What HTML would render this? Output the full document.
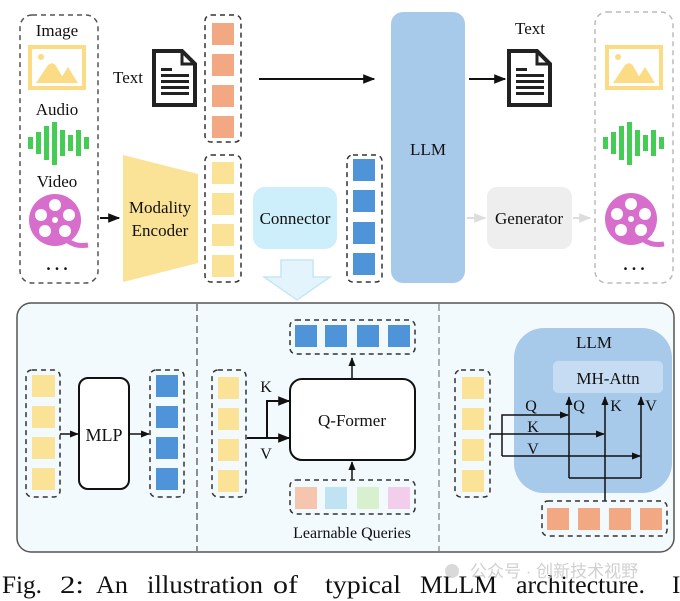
<!DOCTYPE html>
<html><head><meta charset="utf-8"><style>
html,body{margin:0;padding:0;background:#fff;}
svg{display:block;}
text{font-family:"Liberation Serif",serif;fill:#111;}
</style></head><body>
<svg width="680" height="601" viewBox="0 0 680 601" xmlns="http://www.w3.org/2000/svg">
<defs>
<marker id="ah" viewBox="0 0 10 10" refX="9" refY="5" markerWidth="6" markerHeight="6" orient="auto"><path d="M0,1 L10,5 L0,9 z" fill="#111"/></marker>
<marker id="ahg" viewBox="0 0 10 10" refX="9" refY="5" markerWidth="6" markerHeight="6" orient="auto"><path d="M0,1 L10,5 L0,9 z" fill="#ddd"/></marker>
<g id="img"><rect x="2" y="2" width="54" height="41" fill="none" stroke="#fbdc84" stroke-width="4"/><circle cx="13" cy="12" r="3" fill="#fbdc84"/><path d="M8,38 L24,14 L38,38 z M30,38 L40,22 L50,38 z" fill="#fbdc84"/><path d="M20,20 L24,14 L28,20 L24,18 z" fill="#fff"/></g>
<g id="aud" fill="#44cc55"><rect x="0" y="15" width="5" height="12"/><rect x="8" y="10" width="5" height="22"/><rect x="16" y="4" width="5" height="34"/><rect x="24" y="0" width="5" height="43"/><rect x="32" y="8" width="5" height="26"/><rect x="40" y="13" width="5" height="16"/><rect x="48" y="8" width="5" height="26"/><rect x="56" y="15" width="5" height="12"/></g>
<g id="vid"><circle cx="27" cy="27" r="26" fill="#d86ecc"/><path d="M40,48 Q48,54 60,52" stroke="#d86ecc" stroke-width="5" fill="none"/><g fill="#fff"><circle cx="27" cy="12" r="6"/><circle cx="13" cy="22" r="6"/><circle cx="41" cy="22" r="6"/><circle cx="17" cy="38" r="6"/><circle cx="37" cy="38" r="6"/><circle cx="27" cy="27" r="3"/></g></g>
<g id="doc"><path d="M2,2 L30,2 L43,15 L43,56 L2,56 z" fill="#fff" stroke="#222" stroke-width="4"/><path d="M30,2 L30,15 L43,15" fill="none" stroke="#222" stroke-width="3"/><g fill="#222"><rect x="9" y="19" width="11" height="3"/><rect x="9" y="25" width="28" height="3"/><rect x="9" y="31" width="28" height="3"/><rect x="9" y="37" width="28" height="3"/><rect x="9" y="43" width="28" height="3"/></g></g>
</defs>

<rect x="20" y="15" width="78" height="268" rx="12" fill="none" stroke="#555" stroke-width="1.5" stroke-dasharray="5,4"/>
<text x="57" y="36" font-size="17" text-anchor="middle">Image</text>
<use href="#img" x="28" y="45"/>
<text x="57" y="115" font-size="17" text-anchor="middle">Audio</text>
<use href="#aud" x="28" y="122"/>
<text x="57" y="187" font-size="17" text-anchor="middle">Video</text>
<use href="#vid" x="28" y="193"/>
<text x="57" y="270" font-size="17" text-anchor="middle" font-weight="bold">. . .</text>
<line x1="100" y1="218" x2="119" y2="218" stroke="#111" stroke-width="2" marker-end="url(#ah)"/>
<polygon points="123,155 198,174 198,263 123,282" fill="#fae396"/>
<text x="160" y="213" font-size="17" text-anchor="middle">Modality</text>
<text x="160" y="236" font-size="17" text-anchor="middle">Encoder</text>

<text x="128" y="83" font-size="17" text-anchor="middle">Text</text>
<use href="#doc" x="152" y="49"/>
<rect x="205" y="15" width="36" height="127" rx="6" fill="none" stroke="#333" stroke-width="1.5" stroke-dasharray="5,4"/>
<g fill="#f2a983"><rect x="212" y="23" width="22" height="22"/><rect x="212" y="54" width="22" height="22"/><rect x="212" y="85" width="22" height="22"/><rect x="212" y="116" width="22" height="22"/></g>
<rect x="205" y="155" width="36" height="127" rx="6" fill="none" stroke="#333" stroke-width="1.5" stroke-dasharray="5,4"/>
<g fill="#fae396"><rect x="212" y="162" width="22" height="22"/><rect x="212" y="193" width="22" height="22"/><rect x="212" y="224" width="22" height="22"/><rect x="212" y="255" width="22" height="22"/></g>
<rect x="253" y="187" width="84" height="62" rx="12" fill="#cdeefb"/>
<text x="295" y="224" font-size="17" text-anchor="middle">Connector</text>
<polygon points="281,260 313,260 313,277 330,277 297,300 264,277 281,277" fill="#e3f4fc" stroke="#c5e6f5" stroke-width="1.5"/>
<line x1="259" y1="79" x2="374" y2="79" stroke="#111" stroke-width="2" marker-end="url(#ah)"/>

<rect x="347" y="155" width="35" height="127" rx="6" fill="none" stroke="#333" stroke-width="1.5" stroke-dasharray="5,4"/>
<g fill="#4f94d9"><rect x="353" y="159" width="22" height="22"/><rect x="353" y="190" width="22" height="22"/><rect x="353" y="222" width="22" height="22"/><rect x="353" y="253" width="22" height="22"/></g>
<rect x="391" y="12" width="74" height="271" rx="12" fill="#a7c9ea"/>
<text x="428" y="155" font-size="17" text-anchor="middle">LLM</text>
<line x1="469" y1="79" x2="505" y2="79" stroke="#111" stroke-width="2" marker-end="url(#ah)"/>
<text x="530" y="34" font-size="17" text-anchor="middle">Text</text>
<use href="#doc" x="507" y="49"/>
<line x1="467" y1="218" x2="485" y2="218" stroke="#ddd" stroke-width="2" marker-end="url(#ahg)"/>
<rect x="487" y="187" width="85" height="62" rx="10" fill="#eeeeee"/>
<text x="529" y="224" font-size="17" text-anchor="middle">Generator</text>
<line x1="573" y1="218" x2="590" y2="218" stroke="#ddd" stroke-width="2" marker-end="url(#ahg)"/>
<rect x="595" y="12" width="78" height="271" rx="12" fill="none" stroke="#bbb" stroke-width="1.5" stroke-dasharray="5,4"/>
<use href="#img" x="605" y="45"/>
<use href="#aud" x="603" y="122"/>
<use href="#vid" x="604" y="192"/>
<text x="634" y="270" font-size="17" text-anchor="middle" font-weight="bold">. . .</text>

<rect x="17" y="303" width="657" height="249" rx="14" fill="#f3fafd" stroke="#555" stroke-width="1.5"/>
<line x1="197" y1="304" x2="197" y2="551" stroke="#555" stroke-width="1.3" stroke-dasharray="7,4"/>
<line x1="439" y1="304" x2="439" y2="551" stroke="#888" stroke-width="1.3" stroke-dasharray="7,4"/>

<rect x="26" y="370" width="34" height="127" rx="6" fill="none" stroke="#333" stroke-width="1.5" stroke-dasharray="5,4"/>
<g fill="#fae396"><rect x="32" y="375" width="23" height="22"/><rect x="32" y="406" width="23" height="22"/><rect x="32" y="437" width="23" height="22"/><rect x="32" y="468" width="23" height="22"/></g>
<line x1="60" y1="434" x2="78" y2="434" stroke="#111" stroke-width="1.5" marker-end="url(#ah)"/>
<rect x="79" y="378" width="50" height="111" rx="9" fill="#fff" stroke="#111" stroke-width="2"/>
<text x="104" y="441" font-size="18" text-anchor="middle">MLP</text>
<line x1="129" y1="434" x2="149" y2="434" stroke="#111" stroke-width="1.5" marker-end="url(#ah)"/>
<rect x="150" y="370" width="34" height="127" rx="6" fill="none" stroke="#333" stroke-width="1.5" stroke-dasharray="5,4"/>
<g fill="#4f94d9"><rect x="156" y="375" width="22" height="22"/><rect x="156" y="406" width="22" height="22"/><rect x="156" y="437" width="22" height="22"/><rect x="156" y="468" width="22" height="22"/></g>

<rect x="212" y="370" width="34" height="127" rx="6" fill="none" stroke="#333" stroke-width="1.5" stroke-dasharray="5,4"/>
<g fill="#fae396"><rect x="218" y="377" width="21" height="22"/><rect x="218" y="408" width="21" height="22"/><rect x="218" y="439" width="21" height="22"/><rect x="218" y="470" width="21" height="22"/></g>
<line x1="247" y1="438" x2="289" y2="438" stroke="#111" stroke-width="2" marker-end="url(#ah)"/>
<polyline points="267,438 267,401 289,401" fill="none" stroke="#111" stroke-width="2" marker-end="url(#ah)"/>
<text x="266" y="392" font-size="16" text-anchor="middle">K</text>
<text x="266" y="459" font-size="16" text-anchor="middle">V</text>
<rect x="290" y="379" width="125" height="81" rx="12" fill="#fff" stroke="#111" stroke-width="2"/>
<text x="352" y="426" font-size="17" text-anchor="middle">Q-Former</text>
<line x1="352" y1="379" x2="352" y2="358" stroke="#111" stroke-width="1.5" marker-end="url(#ah)"/>
<rect x="290" y="320" width="125" height="34" rx="6" fill="none" stroke="#333" stroke-width="1.5" stroke-dasharray="5,4"/>
<g fill="#4f94d9"><rect x="295" y="325" width="22" height="22"/><rect x="325" y="325" width="22" height="22"/><rect x="357" y="325" width="22" height="22"/><rect x="388" y="325" width="22" height="22"/></g>
<line x1="352" y1="480" x2="352" y2="462" stroke="#111" stroke-width="1.5" marker-end="url(#ah)"/>
<rect x="290" y="480" width="125" height="34" rx="6" fill="none" stroke="#333" stroke-width="1.5" stroke-dasharray="5,4"/>
<rect x="295" y="487" width="22" height="22" fill="#f5c6ad"/><rect x="325" y="487" width="22" height="22" fill="#bfe3f3"/><rect x="357" y="487" width="22" height="22" fill="#d9f0cf"/><rect x="388" y="487" width="22" height="22" fill="#f2cdec"/>
<text x="352" y="538" font-size="16" text-anchor="middle">Learnable Queries</text>

<rect x="514" y="328" width="158" height="165" rx="30" fill="#a7c9ea"/>
<text x="594" y="348" font-size="17" text-anchor="middle">LLM</text>
<rect x="553" y="361" width="110" height="32" rx="5" fill="#c6dcf2"/>
<text x="608" y="384" font-size="17" text-anchor="middle">MH-Attn</text>
<rect x="455" y="370" width="35" height="127" rx="6" fill="none" stroke="#333" stroke-width="1.5" stroke-dasharray="5,4"/>
<g fill="#fae396"><rect x="462" y="377" width="22" height="22"/><rect x="462" y="408" width="22" height="22"/><rect x="462" y="439" width="22" height="22"/><rect x="462" y="470" width="22" height="22"/></g>
<g stroke="#111" stroke-width="1.5" fill="none">
<line x1="490" y1="434" x2="604" y2="434" marker-end="url(#ah)"/>
<polyline points="502,456 502,415 568,415" marker-end="url(#ah)"/>
<line x1="502" y1="456" x2="640" y2="456" marker-end="url(#ah)"/>
<polyline points="569,478 641,478"/>
<line x1="569" y1="478" x2="569" y2="397" marker-end="url(#ah)"/>
<line x1="641" y1="478" x2="641" y2="397" marker-end="url(#ah)"/>
<line x1="605" y1="501" x2="605" y2="397" marker-end="url(#ah)"/>
</g>
<text x="531" y="411" font-size="16" text-anchor="middle">Q</text>
<text x="533" y="432" font-size="16" text-anchor="middle">K</text>
<text x="533" y="454" font-size="16" text-anchor="middle">V</text>
<text x="579" y="411" font-size="16" text-anchor="middle">Q</text>
<text x="616" y="411" font-size="16" text-anchor="middle">K</text>
<text x="651" y="411" font-size="16" text-anchor="middle">V</text>
<rect x="542" y="501" width="125" height="35" rx="6" fill="none" stroke="#333" stroke-width="1.5" stroke-dasharray="5,4"/>
<g fill="#f2a983"><rect x="547" y="508" width="22" height="22"/><rect x="578" y="508" width="22" height="22"/><rect x="609" y="508" width="22" height="22"/><rect x="640" y="508" width="22" height="22"/></g>

<g font-size="25">
<text x="2" y="593" textLength="40" lengthAdjust="spacingAndGlyphs">Fig.</text>
<text x="60" y="593" textLength="24" lengthAdjust="spacingAndGlyphs">2:</text>
<text x="96" y="593" textLength="32" lengthAdjust="spacingAndGlyphs">An</text>
<text x="147" y="593" textLength="116" lengthAdjust="spacingAndGlyphs">illustration</text>
<text x="273" y="593" textLength="25" lengthAdjust="spacingAndGlyphs">of</text>
<text x="325" y="593" textLength="76" lengthAdjust="spacingAndGlyphs">typical</text>
<text x="420" y="593" textLength="77" lengthAdjust="spacingAndGlyphs">MLLM</text>
<text x="516" y="593" textLength="129" lengthAdjust="spacingAndGlyphs">architecture.</text>
<text x="672" y="593">I</text>
</g>
<text x="470" y="577" font-size="17" style="fill:#c8c8c8;font-family:'Liberation Sans','Noto Sans CJK SC',sans-serif" opacity="0.85">公众号 · 创新技术视野</text>
<circle cx="452" cy="571" r="7" fill="#d0d0d0" opacity="0.8"/>
</svg>
</body></html>
